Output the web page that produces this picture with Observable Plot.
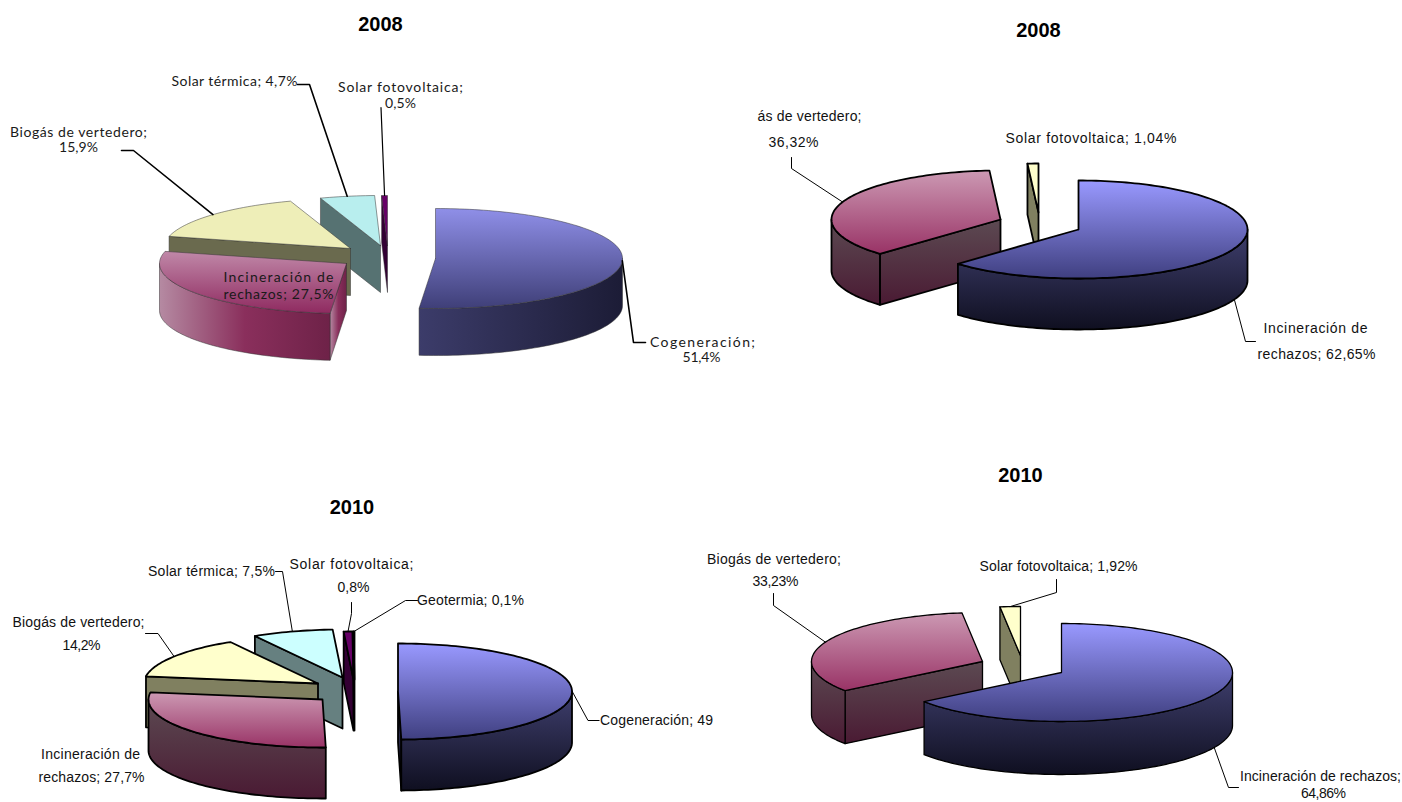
<!DOCTYPE html>
<html><head><meta charset="utf-8">
<script src="https://cdn.jsdelivr.net/npm/d3@7"></script>
<script src="https://cdn.jsdelivr.net/npm/@observablehq/plot@0.6"></script>
<style>html,body{margin:0;padding:0;background:#fff}svg{display:block}</style>
</head><body><div id="chart"></div>
<script>
// ---- data ----
const namesA = ["Cogeneración","Incineración de rechazos","Biogás de vertedero","Solar térmica","Solar fotovoltaica"];
const valuesA = [51.4,27.5,15.9,4.7,0.5];
const namesB = ["Incineración de rechazos","Biogás de vertedero","Solar fotovoltaica"];
const valuesB = [62.65,36.32,1.04];
const namesC = ["Cogeneración","Incineración de rechazos","Biogás de vertedero","Solar térmica","Solar fotovoltaica","Geotermia"];
const valuesC = [49.7,27.7,14.2,7.5,0.8,0.1];
const namesD = ["Incineración de rechazos","Biogás de vertedero","Solar fotovoltaica"];
const valuesD = [64.86,33.23,1.92];
const titles = ["2008","2008","2010","2010"];

// ---- layout and style ----
const pies = [
 {values:valuesA, tones:["blue","pink","yellow","cyan","purple"], rx:187, ry:50, depth:47, order:[3,2,1,4,0], apex:[[435,258],[346,263],[350,248],[380,245],[387,245]], soft:true, sw:0.5, stroke:"#333"},
 {values:valuesB, tones:["blue","pink","yellow"], rx:169, ry:49, depth:51, order:[2,1,0], apex:[[1078,229],[1000,219],[1038,212]], sw:1.8, stroke:"#000"},
 {values:valuesC, tones:["blue","pink","yellow","cyan","purple","purple"], rx:174, ry:48, depth:51, order:[3,2,1,4,5,0], apex:[[397.5,691],[322,699],[317.5,683],[342,677],[353,679],[354,679]], sw:1.8, stroke:"#000"},
 {values:valuesD, tones:["blue","pink","yellow"], rx:171, ry:49, depth:53, order:[2,1,0], apex:[[1061,672],[982,661],[1020,655]], sw:1.3, stroke:"#000"}
];
const palette = {
 blue:{top:["#9999ff","#3f3f80"],side:["#3f3f6e","#0f0f20"],softTop:["#8f8fe8","#3f3f78"],softSide:["#3c3c6a","#1c1c36"]},
 pink:{top:["#cc99b3","#993366"],side:["#5c4a52","#4a1a33"],softTop:["#c088a8","#8f2a60"],softSide:["#b58aa2","#8a2f5c","#6e2248"]},
 yellow:{top:["#ffffcc","#ffffcc"],side:["#808060","#808060"],softTop:["#eeeeb8","#eeeeb8"],softSide:["#6a6a4e","#6a6a4e"]},
 cyan:{top:["#ccffff","#ccffff"],side:["#668080","#668080"],softTop:["#b8eeee","#b8eeee"],softSide:["#567272","#567272"]},
 purple:{top:["#660066","#660066"],side:["#330033","#330033"],softTop:["#660066","#660066"],softSide:["#330033","#330033"]}
};
const titlePos = [[380,24],[1038,30],[351.5,507],[1020,475]];
// text, centre x, centre y, width on the page
const softLabels = [
 ["Solar térmica; 4,7%",234,81,126],["Solar fotovoltaica;",400,87,125],["0,5%",400,103,31],
 ["Biogás de vertedero;",78,132,137],["15,9%",78,147,39],["Incineración de",278,277,110],["rechazos; 27,5%",278,294,110],
 ["Cogeneración;",702,342,105],["51,4%",701,357,38]
];
const plainLabels = [
 ["ás de vertedero;",809,116,104],["36,32%",793,142,50],["Solar fotovoltaica; 1,04%",1090.5,138,171],
 ["Incineración de",1315,328,104],["rechazos; 62,65%",1316,354,118],
 ["Solar térmica; 7,5%",211,571,127],["Solar fotovoltaica;",351,564,124],["0,8%",353,587,32],["Geotermia; 0,1%",470,600,107],
 ["Biogás de vertedero;",78,622,132],["14,2%",81,645,38],["Incineración de",90,754,99],["rechazos; 27,7%",91,777,106],["Cogeneración; 49",656,720,113],
 ["Biogás de vertedero;",773.5,559,134],["33,23%",775,581,46],["Solar fotovoltaica; 1,92%",1058,566,158],
 ["Incineración de rechazos;",1320,776,161],["64,86%",1323,793,45]
];
// leader elbows; the end on the pie is computed from the slice's mid-angle
const leaders = [
 {pie:0,slice:0,knees:[[645,342],[633,342]],sw:1.6},
 {pie:0,slice:2,knees:[[121,150],[133,150]],sw:1.6},
 {pie:0,slice:3,knees:[[297,84],[309,84]],sw:1.6},
 {pie:0,slice:4,knees:[[380.5,107]],sw:1.2},
 {pie:1,slice:0,knees:[[1255,341],[1245,341]],sw:1,base:true},
 {pie:1,slice:1,knees:[[791,157],[791,168]],sw:1},
 {pie:2,slice:0,knees:[[598.6,720],[587.5,720]],sw:1},
 {pie:2,slice:2,knees:[[145,633],[157.5,633]],sw:1},
 {pie:2,slice:3,knees:[[275,571],[282,571]],sw:1},
 {pie:2,slice:4,knees:[[351,602],[351,613]],sw:1},
 {pie:2,slice:5,knees:[[417,600],[405,600]],sw:1},
 {pie:3,slice:0,knees:[[1238,787],[1228,787]],sw:1,base:true},
 {pie:3,slice:1,knees:[[773,593],[773,605]],sw:1},
 {pie:3,slice:2,knees:[[1056,579],[1056,592]],sw:1}
];

// ---- geometry from the values ----
const rad = d => d * Math.PI / 180;
function slicesOf(p){
  const total = d3.sum(p.values); let acc = 0;
  return p.values.map((v,i)=>{const a=acc/total*360; acc+=v; return {i,a,b:acc/total*360,c:p.apex[i]};});
}
const rim = (p,c,deg,dz=0)=>({x:c[0]+p.rx*Math.sin(rad(deg)), y:c[1]-p.ry*Math.cos(rad(deg))+dz});
function arc(p,c,a,b,dz=0){
  const n=Math.max(2,Math.ceil((b-a)/1.5)+1);
  return d3.range(n).map(k=>rim(p,c,a+(b-a)*k/(n-1),dz));
}
const gradients = [];
function grad(tone,kind,soft){
  const key=soft?"soft"+kind[0].toUpperCase()+kind.slice(1):kind;
  const id=`g-${tone}-${key}`;
  if(!gradients.find(g=>g.id===id)) gradients.push({id,stops:palette[tone][key],horizontal:soft&&kind==="side"});
  return `url(#${id})`;
}
const faces=[];
pies.forEach(p=>{
  const sl=slicesOf(p);
  p.order.forEach(i=>{
    const s=sl[i], c=s.c, tone=p.tones[i];
    const sideFill=grad(tone,"side",p.soft), topFill=grad(tone,"top",p.soft);
    const apex={x:c[0],y:c[1]}, apexB={x:c[0],y:c[1]+p.depth};
    const add=(pts,fill)=>faces.push({pts:[...pts,pts[0]],fill,stroke:p.stroke,sw:p.sw});
    const cut=(deg)=>add([apex,rim(p,c,deg),rim(p,c,deg,p.depth),apexB],sideFill);
    if(Math.sin(rad(s.a))<-1e-6) cut(s.a);
    if(Math.sin(rad(s.b))>1e-6) cut(s.b);
    const w0=Math.max(s.a,90), w1=Math.min(s.b,270);
    if(w1>w0) add([...arc(p,c,w0,w1),...arc(p,c,w0,w1,p.depth).reverse()],sideFill);
    add([apex,...arc(p,c,s.a,s.b)],topFill);
  });
});
const leaderLines=leaders.map(l=>{
  const p=pies[l.pie], s=slicesOf(p)[l.slice];
  const end=rim(p,s.c,(s.a+s.b)/2,l.base?p.depth:0);
  return {pts:[...l.knees.map(([x,y])=>({x,y})),end],sw:l.sw};
});
const defs=()=>{
  const d=d3.create("svg:defs");
  gradients.forEach(g=>{
    const lg=d.append("linearGradient").attr("id",g.id).attr("x1",0).attr("y1",0)
      .attr("x2",g.horizontal?1:0).attr("y2",g.horizontal?0:1);
    g.stops.forEach((c,k)=>lg.append("stop").attr("offset",k/(g.stops.length-1)).attr("stop-color",c));
  });
  return d.node();
};
const chart=Plot.plot({
  width:1402,height:802,margin:0,
  style:{background:"#fff"},
  x:{domain:[0,1402],range:[0,1402],axis:null},
  y:{domain:[0,802],range:[0,802],axis:null},
  marks:[
    defs,
    ...faces.map(f=>Plot.line(f.pts,{x:"x",y:"y",fill:f.fill,stroke:f.stroke,strokeWidth:f.sw,strokeLinejoin:"round",curve:"linear"})),
    ...leaderLines.map(l=>Plot.line(l.pts,{x:"x",y:"y",stroke:"#000",strokeWidth:l.sw,curve:"linear"})),
    Plot.text(titles.map((t,i)=>({t,x:titlePos[i][0],y:titlePos[i][1]})),{x:"x",y:"y",text:"t",fontFamily:"Liberation Sans",fontWeight:"bold",fontSize:20,fill:"#000",textAnchor:"middle",lineAnchor:"middle"}),
    Plot.text(softLabels,{x:d=>d[1],y:d=>d[2],text:d=>d[0],fontFamily:"Lato",fontSize:14,fontWeight:400,fill:"#1a1a1a",textAnchor:"middle",lineAnchor:"middle"}),
    Plot.text(plainLabels,{x:d=>d[1],y:d=>d[2],text:d=>d[0],fontFamily:"Liberation Sans",fontSize:14,fill:"#111",textAnchor:"middle",lineAnchor:"middle"})
  ]
});
// stretch each label to the width it has in the picture
const labelRows=[...softLabels,...plainLabels];
[...chart.querySelectorAll("text")].slice(titles.length).forEach((t,i)=>t.setAttribute("textLength",labelRows[i][3]));
document.getElementById("chart").append(chart);
</script>
</body></html>
